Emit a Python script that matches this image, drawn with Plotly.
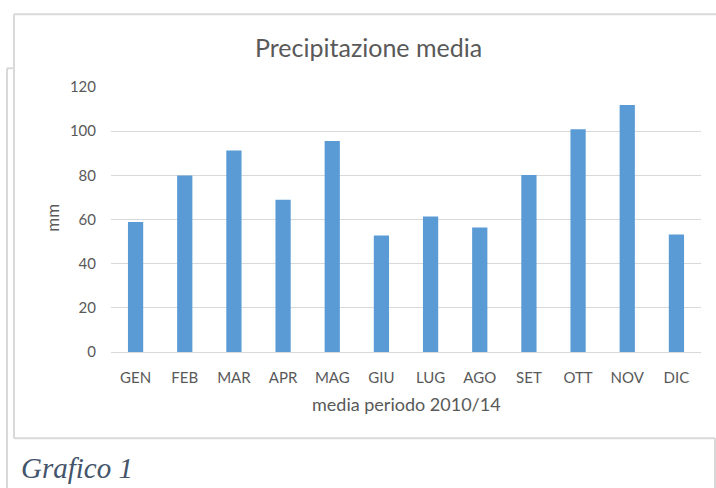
import plotly.graph_objects as go

months = ['GEN', 'FEB', 'MAR', 'APR', 'MAG', 'GIU', 'LUG', 'AGO', 'SET', 'OTT', 'NOV', 'DIC']
rain_mm = [58.9, 79.9, 91.2, 68.9, 95.6, 52.8, 61.4, 56.4, 80.2, 100.9, 111.8, 53.2]
y_ticks = [0, 20, 40, 60, 80, 100, 120]

W, H = 716, 488
# plot area in pixels
X0, X1 = 111, 701
Y0, Y1 = 86.7, 351.7

bar_blue = '#5B9BD5'
grid_grey = '#D9D9D9'
text_grey = '#595959'
font_main = 'Lato, Arial, sans-serif'


def px(x):
    return (x - X0) / (X1 - X0)


def py(y):
    return (Y1 - y) / (Y1 - Y0)


fig = go.Figure(go.Bar(
    x=months,
    y=rain_mm,
    marker=dict(color=bar_blue, line=dict(width=0)),
))

# frames around the chart and the caption box
frame_lines = [
    (14, 14, 716, 14),
    (14, 14, 14, 438),
    (14, 438, 715, 438),
    (7, 68, 14, 68),
    (7, 68, 7, 488),
    (715, 438, 715, 488),
]
shapes = [
    dict(type='line', xref='paper', yref='paper',
         x0=px(a), y0=py(b), x1=px(c), y1=py(d),
         line=dict(color=grid_grey, width=2), layer='below')
    for a, b, c, d in frame_lines
]

annotations = [
    dict(text='Precipitazione media', x=px(368), y=py(47), xref='paper', yref='paper',
         showarrow=False, xanchor='center', yanchor='middle',
         font=dict(family=font_main, size=25, color=text_grey)),
    dict(text='mm', x=px(52.5), y=py(218), xref='paper', yref='paper',
         showarrow=False, textangle=-90, xanchor='center', yanchor='middle',
         font=dict(family=font_main, size=17, color=text_grey)),
    dict(text='media periodo 2010/14', x=px(406.5), y=py(404), xref='paper', yref='paper',
         showarrow=False, xanchor='center', yanchor='middle',
         font=dict(family=font_main, size=18, color=text_grey)),
    dict(text='<i>Grafico 1</i>', x=px(19), y=py(468), xref='paper', yref='paper',
         showarrow=False, xanchor='left', yanchor='middle',
         font=dict(family='Liberation Serif, serif', size=29, color='#44546A')),
]

fig.update_layout(
    width=W,
    height=H,
    margin=dict(l=X0, r=W - X1, t=Y0, b=H - Y1, pad=0),
    plot_bgcolor='white',
    paper_bgcolor='white',
    bargap=0.69,
    showlegend=False,
    shapes=shapes,
    annotations=annotations,
    font=dict(family=font_main, size=15, color=text_grey),
)
fig.update_xaxes(
    showgrid=False,
    showline=True,
    linecolor=grid_grey,
    linewidth=1,
    ticks='',
    ticklabelstandoff=12,
    tickfont=dict(family=font_main, size=15, color=text_grey),
)
fig.update_yaxes(
    range=[0, 120],
    tickvals=y_ticks,
    showgrid=True,
    gridcolor=grid_grey,
    gridwidth=1,
    zeroline=False,
    showline=False,
    ticks='',
    ticklabelstandoff=14,
    tickfont=dict(family=font_main, size=15, color=text_grey),
)

# drop the default page margin so the figure sits at the window's corner
fig.write_html('out.html', config={'displayModeBar': False},
               post_script="document.body.style.margin='0';")
